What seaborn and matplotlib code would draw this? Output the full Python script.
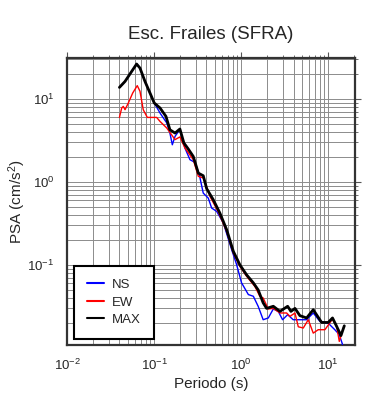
import numpy as np
import pandas as pd
import matplotlib
matplotlib.use("Agg")
import matplotlib.pyplot as plt
import seaborn as sns
from matplotlib.ticker import LogLocator, NullFormatter

# ---- data ----
max_T = [0.040, 0.0464, 0.0553, 0.063, 0.0689, 0.0786, 0.0898, 0.1005, 0.117, 0.137,
         0.152, 0.174, 0.198, 0.22, 0.247, 0.282, 0.322, 0.367, 0.402, 0.479, 0.571,
         0.682, 0.813, 0.969, 1.156, 1.378, 1.57, 1.79, 1.96, 2.34, 2.79, 3.42, 3.73,
         4.15, 4.73, 5.65, 6.73, 8.4, 10.0, 11.2, 12.5, 14.0, 15.3]
max_psa = [13.8, 16.3, 21.5, 26.4, 23.6, 16.3, 11.8, 8.95, 7.8, 6.17,
           4.26, 3.89, 4.35, 2.95, 2.5, 2.03, 1.28, 1.19, 0.83, 0.61, 0.42,
           0.266, 0.146, 0.10, 0.076, 0.061, 0.050, 0.035, 0.030, 0.0318, 0.0276, 0.0318, 0.0276,
           0.030, 0.0245, 0.023, 0.0289, 0.0203, 0.0203, 0.023, 0.0182, 0.0141, 0.0185]

ew_T = [0.040, 0.0425, 0.0443, 0.0464, 0.0506, 0.0568, 0.0641, 0.0689, 0.0751, 0.0836,
        0.107, 0.117, 0.14, 0.174, 0.198, 0.226, 0.282, 0.322, 0.367, 0.439, 0.55,
        0.682, 0.813, 0.969, 1.156, 1.44, 1.64, 1.79, 2.05, 2.34, 2.79, 3.33, 3.63,
        4.15, 4.53, 5.17, 5.9, 6.73, 7.67, 9.16, 11.2, 12.5, 13.4, 14.9]
ew_psa = [6.0, 7.8, 8.15, 7.43, 8.95, 11.8, 14.5, 12.4, 7.43, 6.0,
          6.0, 5.37, 4.47, 3.24, 3.49, 2.57, 1.86, 1.17, 1.12, 0.67, 0.43,
          0.254, 0.14, 0.096, 0.073, 0.055, 0.042, 0.040, 0.0295, 0.030, 0.0264, 0.0264, 0.024,
          0.0264, 0.018, 0.0174, 0.0219, 0.0151, 0.0166, 0.0166, 0.0223, 0.0182, 0.012, 0.0174]

ns_T = [0.040, 0.0464, 0.0553, 0.063, 0.0689, 0.0786, 0.0898, 0.1005, 0.117, 0.14,
        0.152, 0.162, 0.174, 0.198, 0.226, 0.258, 0.295, 0.331, 0.367, 0.419, 0.458,
        0.524, 0.625, 0.778, 0.887, 1.01, 1.21, 1.38, 1.57, 1.79, 2.05, 2.34, 2.67,
        2.99, 3.42, 3.96, 4.73, 5.65, 6.73, 8.03, 10.0, 11.9, 13.4, 14.6]
ns_psa = [13.8, 16.3, 21.5, 26.4, 23.6, 16.3, 11.8, 8.95, 6.78, 5.14,
          3.89, 2.81, 3.54, 4.3, 2.57, 1.86, 1.72, 1.22, 0.735, 0.64, 0.486,
          0.442, 0.32, 0.153, 0.101, 0.061, 0.044, 0.042, 0.0317, 0.0219, 0.023, 0.0295, 0.0276,
          0.0219, 0.0252, 0.0219, 0.0219, 0.0219, 0.0264, 0.0209, 0.0199, 0.0166, 0.0145, 0.011]

series_names = ["NS", "EW", "MAX"]
series_colors = ["#0000ff", "#ff0000", "#000000"]

# ---- style ----
sns.set_style("white")
plt.rcParams["font.family"] = ["Liberation Sans", "DejaVu Sans"]
plt.rcParams["mathtext.fontset"] = "custom"
plt.rcParams["mathtext.rm"] = "Liberation Sans"
plt.rcParams["mathtext.it"] = "Liberation Sans:italic"
plt.rcParams["mathtext.bf"] = "Liberation Sans:bold"

fig = plt.figure(figsize=(3.9, 4.0), dpi=100)
ax = fig.add_axes([67 / 390, 1 - 345 / 400, 288 / 390, 287 / 400])

frames = {
    "NS": pd.DataFrame({"T": ns_T, "PSA": ns_psa}),
    "EW": pd.DataFrame({"T": ew_T, "PSA": ew_psa}),
    "MAX": pd.DataFrame({"T": max_T, "PSA": max_psa}),
}
widths = {"NS": 1.0, "EW": 1.0, "MAX": 2.0}
for name, col in zip(series_names, series_colors):
    sns.lineplot(data=frames[name], x="T", y="PSA", ax=ax, color=col,
                 lw=widths[name], label=name, estimator=None, sort=False, zorder=3)

ax.set_xscale("log")
ax.set_yscale("log")
ax.set_xlim(0.01, 20.3)
ax.set_ylim(0.01086, 31.2)

for axis in (ax.xaxis, ax.yaxis):
    axis.set_major_locator(LogLocator(base=10, numticks=10))
    axis.set_minor_locator(LogLocator(base=10, subs=np.arange(2, 10), numticks=20))
    axis.set_minor_formatter(NullFormatter())

ax.grid(True, which="both", color="#8c8c8c", lw=0.7, zorder=1)
ax.set_axisbelow(True)
ax.tick_params(which="both", direction="out", top=True, right=True,
               color="#555555", labelsize=9.5)
ax.tick_params(which="major", length=4, width=0.8, pad=5)
ax.tick_params(which="minor", length=2.2, width=0.6)
for sp in ax.spines.values():
    sp.set_linewidth(1.6)
    sp.set_color("#333333")

ax.set_title("Esc. Frailes (SFRA)", fontsize=13.5, pad=14)
ax.set_xlabel("Periodo (s)", fontsize=11, labelpad=3)
ax.set_ylabel("PSA (cm/s$^2$)", fontsize=11)
ax.yaxis.set_label_coords(-0.135, 0.5)

leg = ax.legend(loc="lower left", bbox_to_anchor=(0.024, 0.02), borderaxespad=0,
                frameon=True, fancybox=False, fontsize=9.5, handlelength=1.3,
                handletextpad=0.6, labelspacing=0.4, borderpad=1.0)
leg.get_frame().set_edgecolor("black")
leg.get_frame().set_linewidth(1.5)
leg.get_frame().set_alpha(1)
for line in leg.get_lines():
    line.set_linewidth(1.5)

fig.savefig("out.png", dpi=100)
